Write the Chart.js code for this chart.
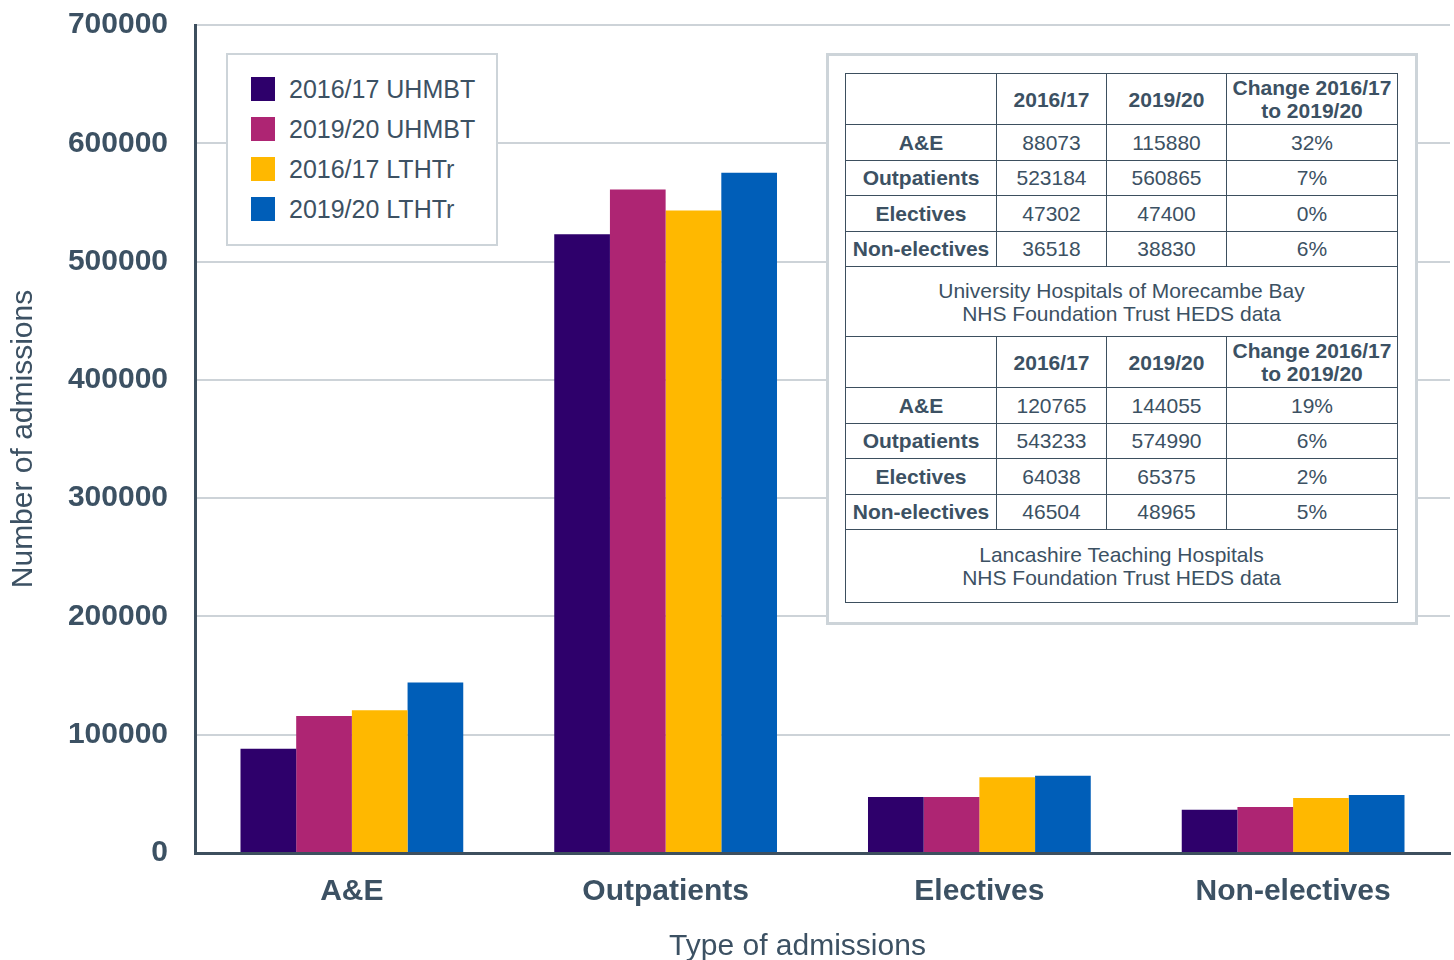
<!DOCTYPE html>
<html><head><meta charset="utf-8">
<script src="https://cdn.jsdelivr.net/npm/chart.js@4"></script>
<style>
html,body{margin:0;padding:0;background:#fff;}
#wrap{position:relative;width:1454px;height:960px;font-family:"Liberation Sans",Arial,sans-serif;color:#3c5163;}
canvas{position:absolute;left:0;top:0;}
#legend{position:absolute;left:226px;top:53px;width:268px;height:189px;border:2px solid #cdd4d9;background:#fff;box-sizing:content-box;}
#legend .it{position:absolute;left:23px;height:26px;font-size:25px;line-height:26px;white-space:nowrap;}
#legend .sw{display:inline-block;width:24px;height:24px;vertical-align:top;margin-top:1px;margin-right:14px;}
#tbox{position:absolute;left:826px;top:53px;width:586px;height:566px;border:3px solid #cdd4d9;background:#fff;}
#tbox table{position:absolute;left:16px;top:17px;border-collapse:collapse;font-size:21px;}
#tbox td{border:1.5px solid #3d4f5e;text-align:center;padding:0;line-height:23px;box-sizing:border-box;}
#tbox td.b{font-weight:bold;}
</style></head><body>
<div id="wrap">
<canvas id="c" width="1454" height="960"></canvas>
<div id="legend"></div>
<div id="tbox"><table id="tbl"></table></div>
</div>
<script>
const categories = ["A&E", "Outpatients", "Electives", "Non-electives"];
const seriesLabels = ["2016/17 UHMBT", "2019/20 UHMBT", "2016/17 LTHTr", "2019/20 LTHTr"];
const uhmbt1617 = [88073, 523184, 47302, 36518];
const uhmbt1920 = [115880, 560865, 47400, 38830];
const lthtr1617 = [120765, 543233, 64038, 46504];
const lthtr1920 = [144055, 574990, 65375, 48965];
const seriesColors = ["#2e006b", "#ae2573", "#ffb800", "#005eb8"];
const yTicks = [0, 100000, 200000, 300000, 400000, 500000, 600000, 700000];
const changeU = ["32%", "7%", "0%", "6%"];
const changeL = ["19%", "6%", "2%", "5%"];
const captionU = ["University Hospitals of Morecambe Bay", "NHS Foundation Trust HEDS data"];
const captionL = ["Lancashire Teaching Hospitals", "NHS Foundation Trust HEDS data"];

const txt = "#3c5163";
const seriesData = [uhmbt1617, uhmbt1920, lthtr1617, lthtr1920];

new Chart(document.getElementById('c'), {
  type: 'bar',
  data: {
    labels: categories,
    datasets: seriesData.map((d, i) => ({
      label: seriesLabels[i], data: d, backgroundColor: seriesColors[i],
      borderWidth: 0, categoryPercentage: 0.71, barPercentage: 1.0
    }))
  },
  options: {
    responsive: false, animation: false, devicePixelRatio: 1,
    layout: { padding: { top: 25, right: 4, left: 0, bottom: 0 } },
    plugins: { legend: { display: false }, tooltip: { enabled: false } },
    scales: {
      x: {
        grid: { display: false, drawTicks: false },
        border: { color: "#3d4f5e", width: 3 },
        ticks: { color: txt, font: { family: "Liberation Sans", size: 30, weight: 'bold' }, padding: 21, maxRotation: 0 },
        title: { display: true, text: "Type of admissions      ", color: txt, font: { family: "Liberation Sans", size: 30 }, padding: { top: 13, bottom: -5 } },
        afterFit: s => { s.height = 107; s.paddingLeft = 0; s.paddingRight = 0; }
      },
      y: {
        min: 0, max: 700000,
        afterBuildTicks: s => { s.ticks = yTicks.map(v => ({ value: v })); },
        grid: { color: "#cdd3d8", lineWidth: 2, drawTicks: false },
        border: { color: "#3d4f5e", width: 3 },
        ticks: { color: txt, font: { family: "Liberation Sans", size: 30, weight: 'bold' }, padding: 27, callback: v => String(v) },
        title: { display: true, text: "Number of admissions", color: txt, font: { family: "Liberation Sans", size: 30 }, padding: { top: 6, bottom: 0 } },
        afterFit: s => { s.width = 195; s.paddingTop = 0; s.paddingBottom = 0; }
      }
    }
  }
});

// legend
const lg = document.getElementById('legend');
seriesLabels.forEach((l, i) => {
  const d = document.createElement('div');
  d.className = 'it';
  d.style.top = (21 + i * 40) + 'px';
  d.innerHTML = '<span class="sw" style="background:' + seriesColors[i] + '"></span>' + l;
  lg.appendChild(d);
});

// table
const widths = [151, 110, 120, 171];
const tbl = document.getElementById('tbl');
function row(cells, h, boldFirst, boldAll) {
  const tr = document.createElement('tr');
  cells.forEach((c, i) => {
    const td = document.createElement('td');
    td.style.width = widths[i] + 'px';
    td.style.height = h + 'px';
    td.innerHTML = c;
    if (boldAll || (boldFirst && i === 0)) td.className = 'b';
    tr.appendChild(td);
  });
  tbl.appendChild(tr);
}
function caption(lines, h) {
  const tr = document.createElement('tr');
  const td = document.createElement('td');
  td.colSpan = 4; td.style.height = h + 'px';
  td.innerHTML = lines.join('<br>');
  tr.appendChild(td); tbl.appendChild(tr);
}
function block(a, b, ch, cap, capH) {
  row(["", "2016/17", "2019/20", "Change 2016/17<br>to 2019/20"], 51, false, true);
  categories.forEach((c, i) => {
    row([c, String(a[i]), String(b[i]), ch[i]], 35.5, true, false);
  });
  caption(cap, capH);
}
block(uhmbt1617, uhmbt1920, changeU, captionU, 70);
block(lthtr1617, lthtr1920, changeL, captionL, 73);
</script>
</body></html>
